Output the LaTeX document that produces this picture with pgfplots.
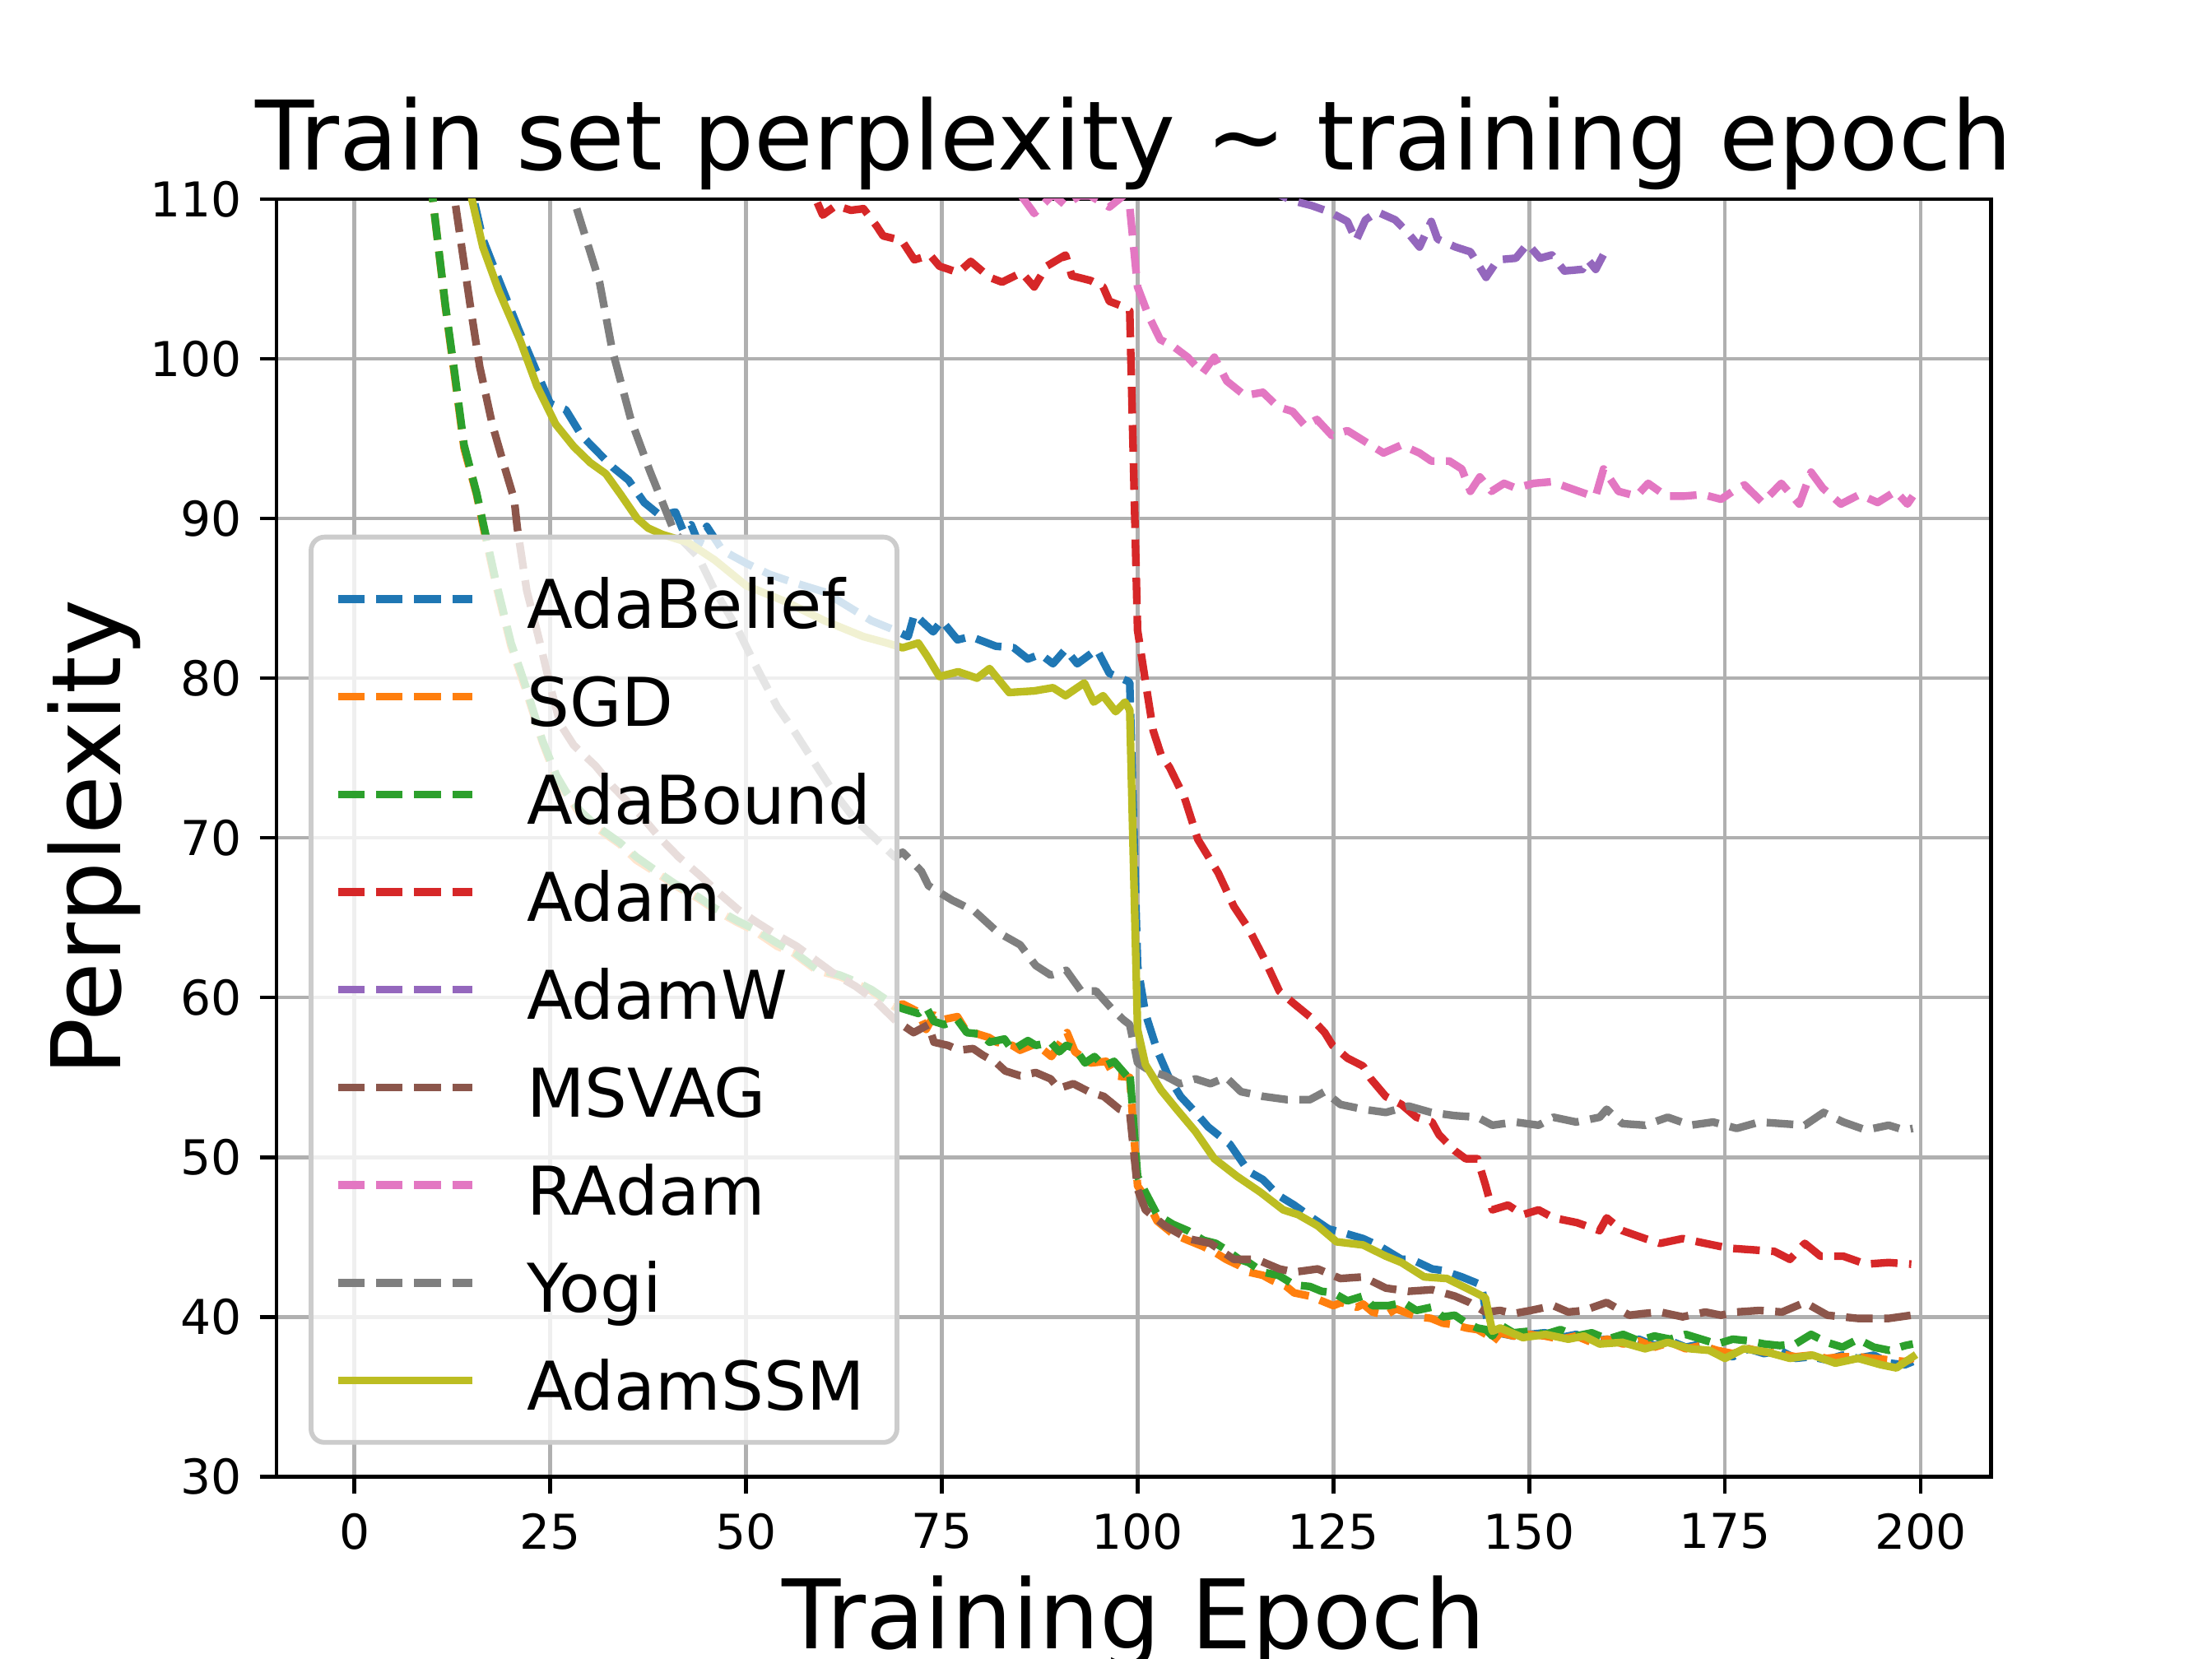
\documentclass[border=0pt]{standalone}
\usepackage{fontspec}
\setmainfont{DejaVu Sans}
\usepackage{pgfplots}
\pgfplotsset{compat=1.18}
\definecolor{C0}{HTML}{1F77B4}
\definecolor{C1}{HTML}{FF7F0E}
\definecolor{C2}{HTML}{2CA02C}
\definecolor{C3}{HTML}{D62728}
\definecolor{C4}{HTML}{9467BD}
\definecolor{C5}{HTML}{8C564B}
\definecolor{C6}{HTML}{E377C2}
\definecolor{C7}{HTML}{7F7F7F}
\definecolor{C8}{HTML}{BCBD22}
\newcommand\ls{\rule[-3.6pt]{0pt}{17.4pt}}
\pgfplotsset{
  legend image code/.code={\path (-2.35pt,0pt); \draw[line cap=butt,#1] (0pt,0pt) -- (28pt,0pt);},
  dsh/.style={line width=1.6pt, dash pattern=on 5.55pt off 2.4pt, line join=round},
}
\begin{document}
\begin{tikzpicture}
\useasboundingbox (0,0) rectangle (460.8pt,345.6pt);
\begin{axis}[
  at={(57.6pt,38.016pt)}, anchor=south west,
  scale only axis, width=357.12pt, height=266.112pt,
  xmin=-9.95, xmax=208.95, ymin=30, ymax=110,
  xtick={0,25,...,200}, ytick={30,40,...,110},
  tick pos=left, tick align=outside, major tick length=3.5pt,
  every tick/.style={black, line width=0.8pt},
  axis line style={line width=0.8pt, black},
  grid=major, grid style={line width=0.8pt, color=black!31},
  tick label style={font=\fontsize{10}{12}\selectfont},
  /pgf/number format/assume math mode=true,
  xticklabel style={anchor=north, inner sep=0pt, yshift=-4pt},
  yticklabel style={anchor=east, inner sep=0pt, xshift=-3.5pt},
  title={Train set perplexity \textasciitilde{} training epoch},
  title style={at={(axis description cs:0.5,1)}, anchor=base, inner sep=0pt, font=\fontsize{20}{24}\selectfont},
  xlabel={Training Epoch},
  ylabel={Perplexity},
  every axis x label/.style={at={(axis description cs:0.5,0)}, anchor=base, yshift=-35.8pt, inner sep=0pt, font=\fontsize{20}{24}\selectfont},
  every axis y label/.style={at={(axis description cs:0,0.5)}, xshift=-32.5pt, rotate=90, anchor=base, inner sep=0pt, font=\fontsize{20}{24}\selectfont},
  legend cell align=left,
  legend style={at={(axis description cs:0,0)}, anchor=south west, xshift=6.7pt, yshift=6.6pt,
    draw=black!20, line width=1pt, fill=white, fill opacity=0.8, text opacity=1,
    rounded corners=2.8pt, inner xsep=2.45pt, inner ysep=3.75pt, row sep=2.05pt, column sep=7.6pt,
    font=\fontsize{14}{16}\selectfont, nodes={inner xsep=3pt, inner ysep=1.5pt}},
]
% AdaBelief
\addplot[C0, dsh] coordinates {(0,260)(5,180)(10,130)(13,116)(15,110.5)(16.4,107.5)(18.4,105)(21,101.8)(23,99.5)(25,97.2)(27,96.8)(29,95.2)(31,94.2)(33,93.2)(35,92.4)(37,91.0)(39,90.2)(41,90.4)(42,89.2)(43,89.6)(44,88.4)(45,89.5)(47,88.0)(50,87.2)(53,86.5)(56,86.0)(60,85.4)(63,84.5)(66,83.6)(69,83.0)(70.7,82.6)(71.5,84.0)(73.9,82.9)(75,83.6)(77,82.4)(78.7,82.6)(81.9,82.0)(84.2,81.9)(86,81.2)(87.6,81.5)(89.2,80.9)(90.8,81.8)(92.3,80.9)(94.8,81.8)(96.4,80.3)(98.8,79.8)(99,79.7)(100,62)(101,59)(102.5,56.7)(104,55)(105.5,53.8)(107.4,52.8)(109,51.9)(111.8,50.8)(114.2,49.1)(116,48.6)(118,47.6)(120,47)(122,46.3)(124.4,45.5)(126,45.3)(128.8,44.9)(131,44.4)(133.7,43.6)(135,43.6)(137.6,43.0)(139,42.9)(141.4,42.5)(143.9,42.0)(144.8,39.3)(146,39.0)(148,38.8)(150,38.9)(152,39.0)(154,38.7)(156,38.9)(158,38.5)(160,38.6)(162,38.4)(164,38.6)(166,38.2)(168,38.5)(170,38.1)(172,38.3)(174,37.8)(176,37.5)(178,38.0)(180,37.7)(182,37.9)(184,37.4)(186,37.5)(188,37.3)(190,37.6)(192,37.4)(194,37.6)(196,37.1)(198,37.0)(199,37.2)};
\addlegendentry{\ls AdaBelief}
% SGD
\addplot[C1, dsh] coordinates {(0,250)(5,160)(8,120)(9,114)(10,110)(11.6,103.3)(12.8,98.9)(14,94.4)(15.6,91.5)(16.4,89.6)(18,86)(20,82)(21.8,79.4)(24,76)(25.8,73.7)(27,72.8)(28.8,71.5)(31,70.6)(33.9,69.6)(36,68.6)(38.9,67.7)(41,67)(43.9,66.2)(46,65.5)(48.9,64.7)(51,64.2)(54,63.2)(56,62.8)(59,61.7)(62,61.3)(64,60.9)(66,60.4)(69,59.4)(70,59.6)(72,59.1)(73,58.0)(74,58.9)(75,58.6)(77,58.8)(78,58.0)(79,57.8)(81,57.5)(82,57.2)(84,57.0)(85,56.7)(87,57.1)(89,56.3)(91,57.8)(92,56.6)(94,55.9)(96,56.0)(97,55.1)(99,55.0)(100,48.2)(101,47.5)(102.5,46.0)(104.5,45.2)(106.4,44.8)(108.4,44.4)(110,44.0)(111.3,43.6)(113,43.2)(114.2,42.8)(116,42.6)(117.1,42.3)(119,41.9)(120,41.5)(122,41.3)(123,41.1)(125,40.7)(126,40.9)(128,40.6)(128.8,40.8)(130,40.3)(131.7,40.1)(133,40.5)(134.6,40.2)(136,40.0)(137.5,39.9)(139,39.6)(140.5,39.5)(142,39.3)(143.4,39.2)(144.5,38.9)(145.3,38.4)(146.3,39.0)(148,38.8)(150,38.9)(152,38.8)(154,38.6)(156,38.8)(158,38.4)(160,38.6)(162,38.3)(164,38.5)(166,38.1)(168,38.4)(170,38.0)(172,38.2)(174,37.9)(176,37.7)(178,38.0)(180,37.8)(182,37.7)(184,37.5)(186,37.6)(188,37.4)(190,37.5)(192,37.5)(194,37.4)(196,37.3)(198,37.2)(199,37.4)};
\addlegendentry{\ls SGD}
% AdaBound
\addplot[C2, dsh] coordinates {(0,250)(5,160)(8,120)(9,114)(10,110)(11.6,103.4)(12.8,99.1)(14,94.6)(15.6,91.6)(16.4,89.8)(18,86.2)(20,82.2)(21.8,79.6)(24,76.1)(25.8,73.9)(27,72.9)(28.8,71.7)(31,70.7)(33.9,69.7)(36,68.8)(38.9,67.8)(41,67.1)(43.9,66.3)(46,65.6)(48.9,64.8)(51,64.3)(54,63.4)(56,62.9)(59,61.8)(62,61.4)(64,61.0)(66,60.5)(69,59.5)(70,59.3)(72,59.0)(73,59.4)(74,58.5)(75.3,58.3)(77,58.6)(78.2,57.8)(80,57.7)(81.1,57.2)(83,57.4)(84,56.7)(86,57.3)(87,57.0)(88.9,57.2)(90,56.6)(90.9,57.0)(92,56.8)(93.3,55.9)(94.5,56.3)(95.7,55.7)(97,56.0)(98.6,55.1)(99,55.4)(100,48.8)(101,47.8)(102.5,46.4)(104.5,45.8)(106.4,45.4)(108.4,44.8)(110,44.6)(111.3,44.2)(113,43.6)(114.2,43.4)(116,42.8)(118,42.6)(120,42.0)(122,41.9)(123.5,41.6)(125,41.5)(126.8,41.0)(128.8,41.3)(130,40.7)(132,40.7)(134,40.9)(135.6,40.4)(137.5,40.6)(139,40.0)(140.5,40.1)(142,39.6)(143.4,39.3)(144.5,39.2)(145.3,38.8)(146.3,39.5)(148,39.0)(150,39.1)(152,38.9)(154,39.2)(156,38.8)(158,39.0)(160,38.6)(162,38.9)(164,38.5)(166,38.8)(168,38.6)(170,38.9)(172,38.6)(174,38.3)(176,38.6)(178,38.5)(180,38.3)(182,38.2)(184,38.3)(186,38.9)(188,38.4)(190,38.1)(192,38.6)(194,38.1)(196,37.9)(198,38.2)(199,38.3)};
\addlegendentry{\ls AdaBound}
% Adam
\addplot[C3, dsh] coordinates {(0,300)(30,150)(50,118)(57,111)(59,109.9)(59.8,109.0)(61.5,109.6)(63.4,109.3)(65,109.4)(66.7,108.3)(67.5,107.7)(69.9,107.4)(71.5,106.2)(73.5,106.5)(74.7,105.8)(77.1,105.4)(78.7,106.1)(81.1,105.1)(82.7,104.8)(85.2,105.4)(86.8,104.5)(88.4,105.8)(90.8,106.5)(91.6,105.2)(94,104.9)(95.6,104.5)(96.4,103.6)(98,103.3)(99,103.0)(100,83.0)(101,79.8)(102,76.7)(103,75.2)(104.1,74.4)(106,72.5)(107.7,69.9)(110.3,67.8)(112.3,65.7)(114.2,64.3)(116.1,62.5)(118.1,60.4)(120,59.6)(122,58.8)(123.9,57.8)(124.9,57.0)(126.8,56.2)(128.8,55.7)(129.8,54.9)(131.7,53.8)(133.7,53.3)(135.6,52.5)(137.6,52.2)(138.5,51.4)(140.5,50.4)(141.9,49.9)(143.4,49.9)(144.4,48.3)(145.3,46.7)(147.3,47.0)(149.2,46.4)(151.2,46.7)(153.1,46.2)(156.1,45.9)(159,45.4)(159.9,46.2)(161.9,45.4)(164.8,44.9)(166.7,44.6)(169.6,44.9)(172.5,44.6)(175.5,44.3)(178.4,44.2)(181.3,44.1)(183.3,43.6)(185.2,44.6)(187.2,43.8)(190.1,43.8)(193,43.3)(195.9,43.4)(198.8,43.3)};
\addlegendentry{\ls Adam}
% AdamW
\addplot[C4, dsh] coordinates {(0,400)(100,120)(110,114)(115,111.5)(118,110.3)(119.8,109.9)(122.2,109.6)(124.5,109.2)(126.8,108.6)(127.9,107.4)(129.1,108.7)(130.6,109.2)(132.9,108.7)(134.5,107.9)(136,107.0)(137.5,108.6)(138.3,107.5)(140.6,107.0)(142.5,106.7)(144.5,105.1)(146,106.2)(148.3,106.3)(149.8,107.2)(151.4,106.3)(152.9,106.5)(154.5,105.5)(156.8,105.6)(157.5,106.2)(158.5,105.6)(160,107.0)};
\addlegendentry{\ls AdamW}
% MSVAG
\addplot[C5, dsh] coordinates {(0,260)(5,180)(10,125)(12.8,110)(14.8,103.3)(16,99.5)(17.6,95.9)(19,93.5)(20.4,91.2)(20.8,89.4)(22,85.5)(23.8,82)(25,79.5)(26.3,77.1)(28,75.8)(30.8,74.5)(33,73.2)(36.4,71.5)(39,70.0)(41.4,68.8)(44,67.7)(46.4,66.6)(49,65.5)(51.4,64.7)(54,63.9)(56.5,63.2)(59,62.3)(61.5,61.4)(64,60.7)(66.5,59.8)(69,58.6)(71.4,57.8)(73.3,58.3)(74,57.2)(75.8,57)(77.2,56.7)(79,56.8)(80.2,56.4)(82,55.9)(83.1,55.4)(85,55.1)(87,55.3)(88.9,54.9)(89.9,54.3)(91.8,54.6)(93.8,54.1)(95.7,53.8)(97.7,53.0)(99,52.8)(100,48.0)(101,46.7)(103.5,45.7)(106.4,44.9)(109.3,44.6)(112.3,43.6)(115.2,43.6)(118.1,43.0)(120,42.8)(123,43.0)(125.9,42.4)(128.8,42.5)(131.7,41.8)(134.6,41.6)(137.6,41.7)(140.5,41.3)(142.4,40.9)(144.4,40.3)(146.3,40.4)(148,40.2)(150.2,40.4)(153.1,40.7)(155,40.3)(157,40.4)(159.9,40.9)(162.8,40.1)(164.5,40.2)(166.7,40.3)(169.6,40.0)(172.5,40.3)(174.5,40.1)(176.4,40.3)(179.4,40.4)(182.3,40.3)(185.2,40.9)(188.1,40.1)(190,40.0)(192,39.9)(195.9,39.9)(198.8,40.1)};
\addlegendentry{\ls MSVAG}
% RAdam
\addplot[C6, dsh] coordinates {(0,350)(60,125)(75,115)(84,111)(86.8,109.1)(89.2,110.3)(90.8,109.6)(92.5,110.2)(94,110.2)(96.4,109.5)(98.4,110.3)(99,109.5)(100,104.5)(101.4,102.7)(102.9,101.2)(104.5,100.8)(106.4,100.1)(108.3,99.1)(109.8,100.1)(111.4,98.6)(113.7,97.7)(116,97.9)(117.9,97.0)(119.8,96.7)(121.4,95.8)(122.9,96.2)(124.8,95.2)(126.8,95.5)(129.1,94.8)(131.4,94.1)(133.7,94.6)(136,94.1)(137.5,93.6)(139.8,93.6)(141.4,93.1)(142.5,91.7)(143.7,92.6)(145.2,91.7)(146.8,92.2)(148.3,91.9)(150.6,92.2)(152.9,92.3)(155.2,91.9)(157.5,91.5)(158.5,91.4)(159.5,93.1)(161.4,91.7)(163.7,91.4)(165.2,92.2)(167.5,91.4)(169.8,91.4)(172.2,91.5)(174.5,91.2)(176,91.7)(177.5,92.1)(179.8,91.0)(182.2,92.2)(184.5,90.9)(186,92.9)(187.5,91.9)(189.8,90.9)(192.2,91.5)(194.5,91.0)(196.8,91.7)(198.3,90.9)(199,91.4)};
\addlegendentry{\ls RAdam}
% Yogi
\addplot[C7, dsh] coordinates {(0,300)(10,200)(20,140)(25,120)(28,110)(31.3,104.8)(32.9,100.6)(35.3,96.2)(37.7,93.0)(40.9,89.1)(43.9,87.6)(46,85.5)(48.9,83.1)(51,81)(54,78.2)(56,76.8)(59,74.5)(61,73.0)(64,71.1)(66,70.2)(69,68.8)(70,69.1)(72.4,67.9)(73.3,67.0)(76.3,66.1)(79.2,65.4)(82.1,64.1)(85,63.3)(87,62.0)(88.9,61.4)(90.9,61.7)(92.8,60.4)(94.7,60.4)(96.7,59.3)(98.2,58.6)(99,58.3)(100,55.9)(101.6,55.4)(103.5,55.1)(105.4,54.6)(107.4,54.9)(109.3,54.6)(111.3,55.0)(113.2,54.1)(116.1,53.8)(119.1,53.6)(122,53.6)(123.9,54.1)(125.9,53.3)(128.8,53.0)(131.7,52.8)(134.6,53.2)(137.5,52.8)(140.5,52.6)(143.4,52.5)(145.3,52.0)(148.2,52.2)(151.2,52.0)(153.1,52.5)(156,52.2)(159,52.5)(159.9,53.0)(161.9,52.1)(164.8,52.0)(167.7,52.5)(170.6,52.0)(173.5,52.2)(176.5,51.8)(179.4,52.2)(182.3,52.1)(185.2,52.0)(187.6,52.8)(190.1,52.2)(193,51.7)(195.9,52.0)(197.9,51.7)(199,51.8)};
\addlegendentry{\ls Yogi}
% AdamSSM
\addplot[C8, line width=1.6pt, line join=round, line cap=rect] coordinates {(0,260)(5,180)(10,130)(13,116)(15,110)(16.4,107)(18.4,104.3)(21.2,101.1)(23.3,98.3)(25.7,95.9)(28,94.5)(30.1,93.5)(32.1,92.8)(34,91.5)(36.1,90.0)(37.5,89.4)(39.3,89.0)(42.6,88.5)(46,87.4)(50,85.8)(55,84.8)(60,83.6)(62,83.2)(65,82.6)(68,82.2)(70,81.9)(72,82.2)(73.1,81.4)(74.7,80.1)(77.1,80.4)(79.5,80.0)(81.1,80.6)(83.6,79.1)(86.8,79.2)(89.2,79.4)(90.8,78.9)(93.2,79.7)(94.4,78.5)(95.6,78.9)(97.2,77.9)(98.4,78.5)(99,78.0)(100,58)(101,55.8)(103,54.2)(105,53)(107.4,51.6)(109.8,49.9)(112.7,48.8)(115.7,47.8)(118.6,46.7)(120.5,46.4)(123,45.7)(125.4,44.7)(128.8,44.5)(131.7,43.8)(133.7,43.4)(136.6,42.5)(139.5,42.4)(142.4,41.7)(144.4,41.2)(145.3,39.1)(146.3,39.3)(149.2,38.7)(152.1,38.9)(155,38.6)(157,38.8)(159,38.3)(161.9,38.4)(164.8,38.0)(167.7,38.4)(170.6,38.0)(173,37.9)(175,37.4)(177.4,38.0)(180.3,37.8)(183.3,37.4)(186.2,37.6)(189.1,37.1)(192,37.4)(194.9,37.0)(196.9,36.8)(199,37.5)};
\addlegendentry{\ls AdamSSM}
\end{axis}
\end{tikzpicture}
\end{document}
